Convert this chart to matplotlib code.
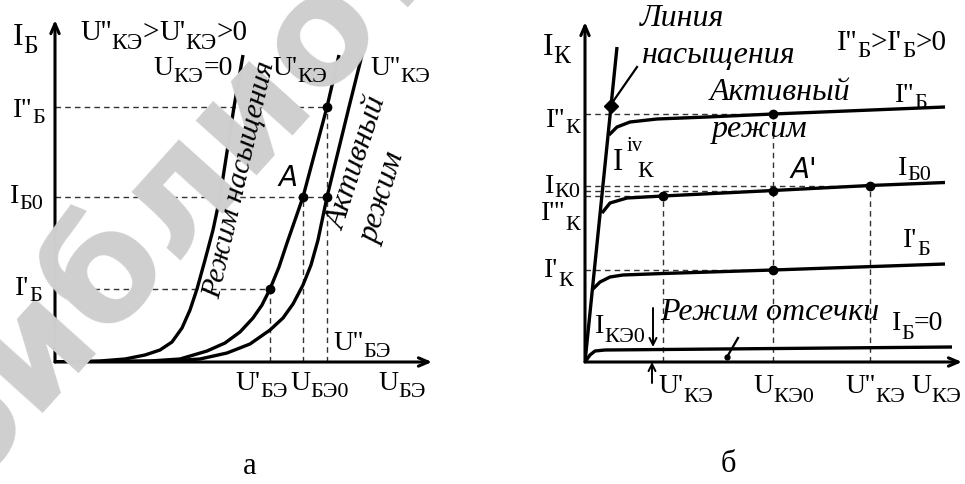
import numpy as np
import matplotlib.pyplot as plt

W, H = 965, 484

plt.rcParams['font.family'] = ['Liberation Serif', 'DejaVu Serif']

# --- panel a: input characteristics I_B(U_BE), arbitrary units ---
ube_0 = [0, 45, 70, 90, 105, 117, 127, 135, 142, 150, 158, 165, 172, 179, 188]
ib_0 = [0, 1, 3, 7, 12, 20, 34, 52, 73, 102, 132, 165, 210, 255, 307]
ube_1 = [0, 95, 125, 152, 170, 185, 198, 207, 215, 224, 232, 240, 248, 260, 272, 284]
ib_1 = [0, 1, 3, 11, 19, 30, 44, 57, 73, 95, 119, 142, 165, 210, 255, 307]
ube_2 = [0, 115, 145, 172, 195, 215, 228, 238, 248, 256, 263, 272, 283, 294, 307]
ib_2 = [0, 1, 3, 9, 18, 32, 44, 58, 77, 97, 122, 165, 210, 255, 307]

ib_levels = [73, 165, 255]          # I'_B, I_B0, I''_B
ube_levels = [215, 248, 272]        # U'_BE, U_BE0, U''_BE
pts_a_x = [215, 248, 272, 272]
pts_a_y = [73, 165, 165, 255]

# --- panel b: output characteristics I_K(U_KE) ---
sat_u = [0, 32]
sat_i = [0, 315]
uke_2 = [24, 32, 45, 72, 122, 188, 360]
ik_2 = [227, 235, 240, 243, 245, 248, 255]
uke_0 = [17, 25, 42, 78, 188, 285, 360]
ik_0 = [149, 159, 164, 166, 171.5, 176.5, 179.5]
uke_1 = [7, 15, 25, 38, 78, 188, 360]
ik_1 = [72, 80, 85, 87, 88.5, 92, 98]
uke_off = [0, 5, 10, 20, 367]
ik_off = [0, 7, 11, 12, 15]

uke_levels = [78, 188, 285]         # U'_KE, U_KE0, U''_KE
ik_levels = [92, 166, 171.5, 176.5, 248]   # I'_K, I'''_K, ..., I_K0, I''_K
pts_b_x = [78, 188, 285, 188, 188]
pts_b_y = [166, 171.5, 176.5, 248, 92]

fig = plt.figure(figsize=(W / 100, H / 100), dpi=100)
renderer = fig.canvas.get_renderer()


def ptext(x, y, s, **kw):
    kw.setdefault('fontsize', 19)
    kw.setdefault('va', 'center')
    return fig.text(x / W, 1 - y / H, s, **kw)


def lab(x, y, parts, ha='left', size=21, drop=7, ratio=0.8):
    """parts: (text, role); role n=normal, b=subscript. y = baseline (px)."""
    placed = []
    cx = 0.0
    for s, role in parts:
        fs = size if role == 'n' else size * ratio
        dy = drop if role == 'b' else 0
        t = fig.text(0, 0, s, fontsize=fs, va='baseline', ha='left')
        w = t.get_window_extent(renderer).width
        placed.append((t, cx, dy))
        cx += w
    x0 = x - cx if ha == 'right' else x
    for t, off, dy in placed:
        t.set_position(((x0 + off) / W, 1 - (y + dy) / H))


def panel(x0, y0, x1, y1):
    ax = fig.add_axes([x0 / W, 1 - y0 / H, (x1 - x0) / W, (y0 - y1) / H])
    ax.set_xlim(0, x1 - x0)
    ax.set_ylim(0, y0 - y1)
    ax.axis('off')
    arrow = dict(arrowstyle='->,head_length=0.7,head_width=0.3', lw=2.2,
                 color='k', shrinkA=0, shrinkB=0)
    ax.annotate('', xy=(0, y0 - y1), xytext=(0, 0), arrowprops=arrow,
                annotation_clip=False)
    ax.annotate('', xy=(x1 - x0, 0), xytext=(0, 0), arrowprops=arrow,
                annotation_clip=False)
    return ax


dash = dict(color='#333333', lw=1.0, dashes=(4, 3), zorder=2)
curve = dict(color='k', lw=2.4, solid_capstyle='butt', zorder=3)

# watermark
ptext(-37, 495, 'библиотека', fontsize=108, family='DejaVu Sans',
      weight='bold', color='#cfcfcf', rotation=48, rotation_mode='anchor',
      ha='left', va='baseline', zorder=0)

# ---------- panel a ----------
ax = panel(55, 362, 432, 20)
for u, i in [(ube_0, ib_0), (ube_1, ib_1), (ube_2, ib_2)]:
    ax.plot(u, i, **curve)
ax.plot([0, ube_levels[2]], [ib_levels[2]] * 2, **dash)
ax.plot([0, ube_levels[2]], [ib_levels[1]] * 2, **dash)
ax.plot([0, ube_levels[0]], [ib_levels[0]] * 2, **dash)
ax.plot([ube_levels[0]] * 2, [0, ib_levels[0]], **dash)
ax.plot([ube_levels[1]] * 2, [0, ib_levels[1]], **dash)
ax.plot([ube_levels[2]] * 2, [0, ib_levels[2]], **dash)
ax.plot(pts_a_x, pts_a_y, 'o', color='k', ms=6, zorder=4)

lab(13, 45, [('I', 'n'), ('Б', 'b')], size=23, drop=8)
lab(80, 40, [("U''", 'n'), ('КЭ', 'b'), ('>', 'n'), ("U'", 'n'),
             ('КЭ', 'b'), ('>0', 'n')], size=21, drop=9)
lab(233, 75, [('U', 'n'), ('КЭ', 'b'), ('=0', 'n')], ha='right', size=20)
lab(272, 75, [("U'", 'n'), ('КЭ', 'b')], size=20)
lab(370, 75, [("U''", 'n'), ('КЭ', 'b')], size=20)
lab(45, 117, [("I''", 'n'), ('Б', 'b')], ha='right', size=20, drop=6)
lab(43, 203, [('I', 'n'), ('Б0', 'b')], ha='right', size=20, drop=6)
lab(42, 295, [("I'", 'n'), ('Б', 'b')], ha='right', size=20, drop=6)
lab(235, 390, [("U'", 'n'), ('БЭ', 'b')], size=20)
lab(290, 390, [('U', 'n'), ('БЭ0', 'b')], size=20)
lab(378, 390, [('U', 'n'), ('БЭ', 'b')], size=20)
lab(333, 350, [("U''", 'n'), ('БЭ', 'b')], size=20)

ptext(288, 178, 'A', family='DejaVu Sans', style='italic', fontsize=20,
      ha='center')
ptext(240, 180, 'Режим насыщения', style='italic', fontsize=21.5,
      rotation=77, rotation_mode='anchor', ha='center')
ptext(358, 163, 'Активный', style='italic', fontsize=22.5, rotation=72,
      rotation_mode='anchor', ha='center')
ptext(384, 198, 'режим', style='italic', fontsize=22.5, rotation=73,
      rotation_mode='anchor', ha='center')

# ---------- panel b ----------
bx = panel(585, 362, 962, 22)
bx.plot(sat_u, sat_i, **curve)
for u, i in [(uke_2, ik_2), (uke_0, ik_0), (uke_1, ik_1), (uke_off, ik_off)]:
    bx.plot(u, i, **curve)
bx.plot([0, uke_levels[1]], [ik_levels[4]] * 2, **dash)
bx.plot([0, uke_levels[2]], [ik_levels[3]] * 2, **dash)
bx.plot([0, uke_levels[1]], [ik_levels[2]] * 2, **dash)
bx.plot([0, uke_levels[0]], [ik_levels[1]] * 2, **dash)
bx.plot([0, uke_levels[1]], [ik_levels[0]] * 2, **dash)
bx.plot([uke_levels[0]] * 2, [0, ik_levels[1]], **dash)
bx.plot([uke_levels[1]] * 2, [0, ik_levels[4]], **dash)
bx.plot([uke_levels[2]] * 2, [0, ik_levels[3]], **dash)
bx.plot(pts_b_x, pts_b_y, 'o', color='k', ms=6, zorder=4)
bx.plot([26], [256], 'D', color='k', ms=7, zorder=4)
bx.plot([52, 27], [295, 259], color='k', lw=1.6, zorder=4)
bx.plot([153, 142], [24, 5], color='k', lw=1.6, zorder=4)
bx.plot([142], [5], 'o', color='k', ms=3.5, zorder=4)
small_arrow = dict(arrowstyle='->,head_length=0.5,head_width=0.25', lw=1.4,
                   color='k', shrinkA=0, shrinkB=0)
bx.annotate('', xy=(68, 15), xytext=(68, 54), arrowprops=small_arrow)
bx.annotate('', xy=(67, 0), xytext=(67, -21), arrowprops=small_arrow,
            annotation_clip=False)

lab(543, 55, [('I', 'n'), ('К', 'b')], size=23, drop=8)
ptext(640, 18, 'Линия', style='italic', fontsize=23, ha='left')
ptext(642, 55, 'насыщения', style='italic', fontsize=23, ha='left')
lab(837, 50, [("I''", 'n'), ('Б', 'b'), ('>', 'n'), ("I'", 'n'),
              ('Б', 'b'), ('>0', 'n')], size=21, drop=7)
lab(580, 127, [("I''", 'n'), ('К', 'b')], ha='right', size=20, drop=6)
ptext(613, 170, 'I', fontsize=22, ha='left', va='baseline')
ptext(627, 151, 'iv', fontsize=15, ha='left', va='baseline')
ptext(637, 177, 'К', fontsize=17, ha='left', va='baseline')
lab(580, 193, [('I', 'n'), ('К0', 'b')], ha='right', size=20, drop=4)
lab(580, 220, [("I'''", 'n'), ('К', 'b')], ha='right', size=20, drop=10)
lab(573, 277, [("I'", 'n'), ('К', 'b')], ha='right', size=20, drop=9)
ptext(790, 170, "A'", family='DejaVu Sans', style='italic', fontsize=20,
      ha='left')
ptext(780, 92, 'Активный', style='italic', fontsize=23, ha='center')
ptext(760, 129, 'режим', style='italic', fontsize=23, ha='center')
lab(895, 102, [("I''", 'n'), ('Б', 'b')], size=20, drop=6)
lab(898, 175, [('I', 'n'), ('Б0', 'b')], size=20, drop=5)
lab(903, 247, [("I'", 'n'), ('Б', 'b')], size=20, drop=8)
ptext(770, 313, 'Режим отсечки', style='italic', fontsize=23, ha='center')
lab(892, 330, [('I', 'n'), ('Б', 'b'), ('=0', 'n')], size=20, drop=9)
lab(595, 333, [('I', 'n'), ('КЭ0', 'b')], size=20, drop=9)
lab(658, 393, [("U'", 'n'), ('КЭ', 'b')], size=20, drop=9)
lab(753, 393, [('U', 'n'), ('КЭ0', 'b')], size=20, drop=9)
lab(845, 393, [("U''", 'n'), ('КЭ', 'b')], size=20, drop=9)
lab(911, 393, [('U', 'n'), ('КЭ', 'b')], size=20, drop=9)

ptext(250, 467, 'а', fontsize=22, ha='center')
ptext(728, 465, 'б', fontsize=22, ha='center')

fig.savefig('out.png', dpi=100)
